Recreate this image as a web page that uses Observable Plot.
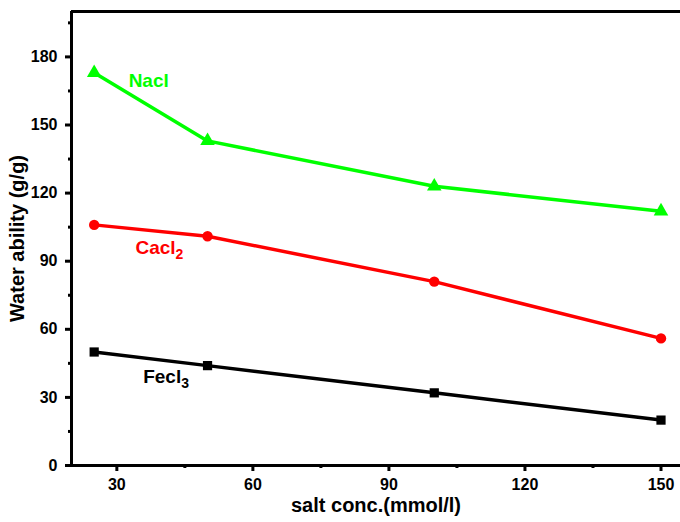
<!DOCTYPE html>
<html>
<head>
<meta charset="utf-8">
<script src="https://cdn.jsdelivr.net/npm/d3@7"></script>
<script src="https://cdn.jsdelivr.net/npm/@observablehq/plot@0.6"></script>
<style>
  html, body { margin: 0; padding: 0; background: #fff; }
  svg { font-family: "Liberation Sans", Arial, sans-serif; }
</style>
</head>
<body>
<div id="chart"></div>
<script>
const conc = [25, 50, 100, 150];
const nacl = [173, 143, 123, 112];
const cacl2 = [106, 101, 81, 56];
const fecl3 = [50, 44, 32, 20];
const seriesNames = ["Nacl", "Cacl2", "Fecl3"];
const labelMain = ["Nacl", "Cacl", "Fecl"];
const labelSub = ["", "2", "3"];
const seriesColors = ["#00ff00", "#ff0000", "#000000"];
const seriesSymbols = ["triangle", "circle", "square"];
const xMajorTicks = [30, 60, 90, 120, 150];
const xMinorTicks = [45, 75, 105, 135];
const yMajorTicks = [0, 30, 60, 90, 120, 150, 180];
const yMinorTicks = [15, 45, 75, 105, 135, 165, 195];
const labelX = [32.6, 34.1, 35.8];
const labelY = [169.6, 96, 39.2];

const values = [nacl, cacl2, fecl3];
const data = [];
values.forEach((vals, i) => vals.forEach((v, j) => data.push({series: seriesNames[i], x: conc[j], y: v})));
const labels = seriesNames.map((s, i) => ({series: s, main: labelMain[i], sub: labelSub[i], x: labelX[i], y: labelY[i]}));

const chart = Plot.plot({
  width: 680,
  height: 522,
  marginLeft: 71,
  marginTop: 11,
  marginBottom: 57,
  marginRight: 0,
  x: {domain: [20, 154.3]},
  y: {domain: [0, 200]},
  color: {domain: seriesNames, range: seriesColors},
  marks: [
    Plot.line(data, {x: "x", y: "y", z: "series", stroke: "series", strokeWidth: 3.5}),
    Plot.dot(data.filter(d => d.series === seriesNames[0]), {x: "x", y: "y", symbol: () => seriesSymbols[0], fill: seriesColors[0], r: 5.4}),
    Plot.dot(data.filter(d => d.series === seriesNames[1]), {x: "x", y: "y", symbol: () => seriesSymbols[1], fill: seriesColors[1], r: 5.2}),
    Plot.dot(data.filter(d => d.series === seriesNames[2]), {x: "x", y: "y", symbol: () => seriesSymbols[2], fill: seriesColors[2], r: 5.2}),
    Plot.text(labels, {x: "x", y: "y", text: "main", fill: "series", textAnchor: "start", fontSize: 19, fontWeight: "bold", className: "series-label"}),
    Plot.axisX({ticks: xMajorTicks, tickSize: 6, tickPadding: 7, strokeWidth: 3, fontSize: 16, fontWeight: "bold", fill: "#000", label: null}),
    Plot.axisX({ticks: xMinorTicks, tickSize: 3, strokeWidth: 3, text: null, label: null}),
    Plot.axisY({ticks: yMajorTicks, tickSize: 6, tickPadding: 8, strokeWidth: 3, fontSize: 16, fontWeight: "bold", fill: "#000", label: null}),
    Plot.axisY({ticks: yMinorTicks, tickSize: 3, strokeWidth: 3, text: null, label: null}),
    Plot.ruleY([0], {strokeWidth: 3}),
    Plot.ruleY([200], {strokeWidth: 3}),
    Plot.ruleX([20], {strokeWidth: 3}),
    Plot.text(["salt conc.(mmol/l)"], {frameAnchor: "bottom", dy: 46, fontSize: 20, fontWeight: "bold", fill: "#000"}),
    Plot.text(["Water ability (g/g)"], {frameAnchor: "left", dx: -54, rotate: -90, textAnchor: "middle", fontSize: 20, fontWeight: "bold", fill: "#000"})
  ]
});
// add subscripts to series labels
d3.select(chart).selectAll("g.series-label text").each(function(_, k) {
  const sub = labels[k].sub;
  if (sub) {
    d3.select(this).append("tspan").attr("dy", "0.35em").attr("font-size", 14).text(sub);
  }
});
document.getElementById("chart").appendChild(chart);
</script>
</body>
</html>
